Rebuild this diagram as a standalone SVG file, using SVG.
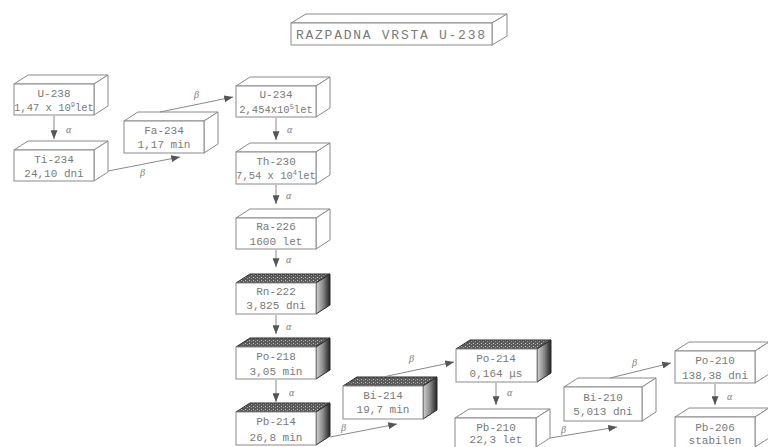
<svg xmlns="http://www.w3.org/2000/svg" width="768" height="447" viewBox="0 0 768 447">
<defs>
<style>
.f{fill:#fff;stroke:#8a8a8a;stroke-width:1}
.t{fill:#fff;stroke:#8a8a8a;stroke-width:1}
.st{fill:url(#stip);stroke:#2a2a2a;stroke-width:1}
.ss{fill:url(#side);stroke:#2a2a2a;stroke-width:1}
.lbl{font-family:"Liberation Mono","DejaVu Sans Mono",monospace;font-size:11px;fill:#7a7a7a;text-anchor:middle}
.sm{font-size:10.5px}
.sup{font-size:7px}
.g{font-family:"Liberation Serif","DejaVu Serif",serif;font-style:italic;font-size:10px;fill:#7a7a7a}
.c{stroke:#8a8a8a;stroke-width:1;fill:none;marker-end:url(#ah)}
.title{font-family:"Liberation Mono","DejaVu Sans Mono",monospace;font-size:13px;fill:#7a7a7a}
</style>
<pattern id="stip" width="4" height="3" patternUnits="userSpaceOnUse">
<rect width="4" height="3" fill="#5a5a5a"/>
<rect x="1" y="1" width="1" height="1" fill="#c4c4c4"/>
<rect x="3" y="2" width="1" height="1" fill="#9a9a9a"/>
</pattern>
<linearGradient id="side" x1="0" y1="0" x2="1" y2="0">
<stop offset="0" stop-color="#d2d2d2"/>
<stop offset="0.5" stop-color="#8a8a8a"/>
<stop offset="1" stop-color="#222"/>
</linearGradient>
<marker id="ah" viewBox="0 0 10 8" refX="10" refY="4" markerWidth="9" markerHeight="7" markerUnits="userSpaceOnUse" orient="auto">
<path d="M0,0 L10,4 L0,8 z" fill="#555"/>
</marker>
</defs>
<rect width="768" height="447" fill="#fff"/>

<g id="title">
<polygon class="t" points="291,23 306,14 507,14 492,23"/>
<polygon class="t" points="492,23 507,14 507,36 492,45"/>
<rect class="f" x="291" y="23" width="201" height="22"/>
<text class="title" x="296" y="38.5" textLength="189" lengthAdjust="spacing">RAZPADNA VRSTA U-238</text>
</g>

<g id="u238">
<polygon class="t" points="14,84 28,75 108,75 94,84"/>
<polygon class="t" points="94,84 108,75 108,106 94,115"/>
<rect class="f" x="14" y="84" width="80" height="31"/>
<text class="lbl" x="54" y="97">U-238</text>
<text class="lbl sm" x="54" y="111">1,47 x 10<tspan class="sup" dy="-4">9</tspan><tspan dy="4">let</tspan></text>
</g>

<g id="ti234">
<polygon class="t" points="14,150 28,141 108,141 94,150"/>
<polygon class="t" points="94,150 108,141 108,172 94,181"/>
<rect class="f" x="14" y="150" width="80" height="31"/>
<text class="lbl" x="54" y="163">Ti-234</text>
<text class="lbl" x="54" y="177">24,10 dni</text>
</g>

<g id="fa234">
<polygon class="t" points="124,121 138,112 218,112 204,121"/>
<polygon class="t" points="204,121 218,112 218,144 204,153"/>
<rect class="f" x="124" y="121" width="80" height="32"/>
<text class="lbl" x="164" y="134">Fa-234</text>
<text class="lbl" x="164" y="148">1,17 min</text>
</g>

<g id="u234">
<polygon class="t" points="236,86 250,77 330,77 316,86"/>
<polygon class="t" points="316,86 330,77 330,108 316,117"/>
<rect class="f" x="236" y="86" width="80" height="31"/>
<text class="lbl" x="276" y="98">U-234</text>
<text class="lbl sm" x="276" y="113">2,454x10<tspan class="sup" dy="-4">5</tspan><tspan dy="4">let</tspan></text>
</g>

<g id="th230">
<polygon class="t" points="236,152 250,143 330,143 316,152"/>
<polygon class="t" points="316,152 330,143 330,175 316,184"/>
<rect class="f" x="236" y="152" width="80" height="32"/>
<text class="lbl" x="276" y="165">Th-230</text>
<text class="lbl sm" x="276" y="179">7,54 x 10<tspan class="sup" dy="-4">4</tspan><tspan dy="4">let</tspan></text>
</g>

<g id="ra226">
<polygon class="t" points="236,218 250,209 330,209 316,218"/>
<polygon class="t" points="316,218 330,209 330,240 316,249"/>
<rect class="f" x="236" y="218" width="80" height="31"/>
<text class="lbl" x="276" y="230">Ra-226</text>
<text class="lbl" x="276" y="245">1600 let</text>
</g>

<g id="rn222">
<polygon class="st" points="236,283 250,274 330,274 316,283"/>
<polygon class="ss" points="316,283 330,274 330,305 316,314"/>
<rect class="f" x="236" y="283" width="80" height="31"/>
<text class="lbl" x="276" y="295">Rn-222</text>
<text class="lbl" x="276" y="309">3,825 dni</text>
</g>

<g id="po218">
<polygon class="st" points="236,347 250,338 330,338 316,347"/>
<polygon class="ss" points="316,347 330,338 330,370 316,379"/>
<rect class="f" x="236" y="347" width="80" height="32"/>
<text class="lbl" x="276" y="360">Po-218</text>
<text class="lbl" x="276" y="375">3,05 min</text>
</g>

<g id="pb214">
<polygon class="st" points="236,412 250,403 330,403 316,412"/>
<polygon class="ss" points="316,412 330,403 330,436 316,445"/>
<rect class="f" x="236" y="412" width="80" height="33"/>
<text class="lbl" x="276" y="425">Pb-214</text>
<text class="lbl" x="276" y="441">26,8 min</text>
</g>

<g id="bi214">
<polygon class="st" points="343,386 357,377 437,377 423,386"/>
<polygon class="ss" points="423,386 437,377 437,410 423,419"/>
<rect class="f" x="343" y="386" width="80" height="33"/>
<text class="lbl" x="383" y="399">Bi-214</text>
<text class="lbl" x="383" y="413">19,7 min</text>
</g>

<g id="po214">
<polygon class="st" points="456,349 470,340 551,340 537,349"/>
<polygon class="ss" points="537,349 551,340 551,373 537,382"/>
<rect class="f" x="456" y="349" width="81" height="33"/>
<text class="lbl" x="496" y="362">Po-214</text>
<text class="lbl" x="496" y="377">0,164 μs</text>
</g>

<g id="pb210">
<polygon class="t" points="455,418 469,409 550,409 536,418"/>
<polygon class="t" points="536,418 550,409 550,438 536,447"/>
<rect class="f" x="455" y="418" width="81" height="30"/>
<text class="lbl" x="496" y="431">Pb-210</text>
<text class="lbl" x="496" y="443">22,3 let</text>
</g>

<g id="bi210">
<polygon class="t" points="564,387 578,378 656,378 642,387"/>
<polygon class="t" points="642,387 656,378 656,412 642,421"/>
<rect class="f" x="564" y="387" width="78" height="34"/>
<text class="lbl" x="603" y="401">Bi-210</text>
<text class="lbl" x="603" y="415">5,013 dni</text>
</g>

<g id="po210">
<polygon class="t" points="675,351 689,342 769,342 755,351"/>
<polygon class="t" points="755,351 769,342 769,374 755,383"/>
<rect class="f" x="675" y="351" width="80" height="32"/>
<text class="lbl" x="715" y="364">Po-210</text>
<text class="lbl" x="715" y="379">138,38 dni</text>
</g>

<g id="pb206">
<polygon class="t" points="675,417 689,408 769,408 755,417"/>
<polygon class="t" points="755,417 769,408 769,438 755,447"/>
<rect class="f" x="675" y="417" width="80" height="31"/>
<text class="lbl" x="715" y="431">Pb-206</text>
<text class="lbl" x="715" y="444">stabilen</text>
</g>

<g id="connectors">
<line class="c" x1="54" y1="116" x2="54" y2="139"/>
<text class="g" x="66" y="133">α</text>
<line class="c" x1="108" y1="171" x2="180" y2="157"/>
<text class="g" x="140" y="176">β</text>
<line class="c" x1="160" y1="112" x2="233" y2="97"/>
<text class="g" x="194" y="98">β</text>
<line class="c" x1="276" y1="118" x2="276" y2="140"/>
<text class="g" x="287" y="133">α</text>
<line class="c" x1="276" y1="185" x2="276" y2="204"/>
<text class="g" x="286" y="199">α</text>
<line class="c" x1="276" y1="250" x2="276" y2="267"/>
<text class="g" x="286" y="263">α</text>
<line class="c" x1="276" y1="315" x2="276" y2="334"/>
<text class="g" x="286" y="330">α</text>
<line class="c" x1="276" y1="380" x2="276" y2="402"/>
<text class="g" x="289" y="396">α</text>
<line class="c" x1="330" y1="437" x2="397" y2="424"/>
<text class="g" x="341" y="431">β</text>
<line class="c" x1="383" y1="377" x2="454" y2="362"/>
<text class="g" x="409" y="362">β</text>
<line class="c" x1="496" y1="383" x2="496" y2="405"/>
<text class="g" x="507" y="396">α</text>
<line class="c" x1="550" y1="438" x2="617" y2="427"/>
<text class="g" x="561" y="433">β</text>
<line class="c" x1="610" y1="378" x2="671" y2="363"/>
<text class="g" x="632" y="366">β</text>
<line class="c" x1="715" y1="384" x2="715" y2="405"/>
<text class="g" x="727" y="400">α</text>
</g>
</svg>
